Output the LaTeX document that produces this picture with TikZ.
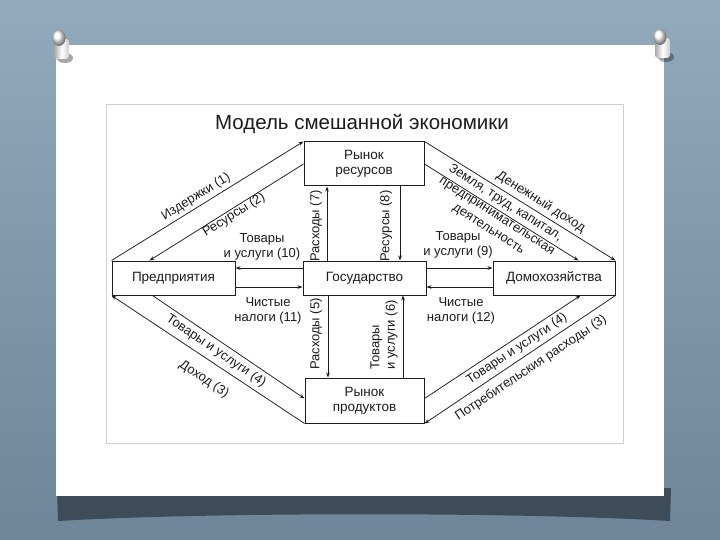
\documentclass[tikz,border=0pt]{standalone}
\usepackage{fontspec}
\setmainfont{Liberation Sans}
\usetikzlibrary{arrows.meta,calc}
\definecolor{bgtop}{HTML}{93A9BC}
\definecolor{bgbot}{HTML}{6E859A}
\definecolor{ink}{HTML}{1C1C1C}
\definecolor{framec}{HTML}{D0D0D0}
\definecolor{shadowc}{HTML}{3E4C59}
\tikzset{
  box/.style={draw=ink, line width=1pt, fill=white, inner sep=0pt, align=center,
    text=ink, font=\fontsize{13.5}{15}\selectfont},
  lbl/.style={inner sep=0pt, text=ink, align=center, font=\fontsize{13}{15.5}\selectfont},
  conn/.style={draw=ink, line width=0.75pt, -{Stealth[length=5pt,width=3.6pt]}},
  pushpin/.pic={
    \fill[black, opacity=0.35] (6,19) ellipse (8 and 5);
    \shade[left color=gray!70, right color=gray!40, middle color=white, rounded corners=3pt]
      (-5,0) rectangle (10,20);
    \shade[ball color=white] (0,-1) ellipse (6.5 and 8);
  }
}
\begin{document}
\begin{tikzpicture}[x=1pt, y=-1pt]
\useasboundingbox (0,0) rectangle (720,540);
% background
\shade[top color=bgtop, bottom color=bgbot] (0,0) rectangle (720,540);
\fill[shadowc] (57,488) -- (671,488) -- (670,521) .. controls (520,512) and (210,512) .. (58,521) -- cycle;
\fill[white] (56,45) rectangle (664,496);
\draw[framec, line width=1pt] (106,105) rectangle (623,443);
\pic at (59,39) {pushpin};
\pic at (660,38) {pushpin};

% title
\node[text=ink, font=\fontsize{20.5}{24}\selectfont] (title) at (362,124) {Модель смешанной экономики};

% boxes
\node[box, minimum width=120pt, minimum height=44pt] (RR) at (364,164) {Рынок\\ресурсов};
\node[box, minimum width=123pt, minimum height=34pt] (PR) at (173.5,278) {Предприятия};
\node[box, minimum width=123pt, minimum height=34pt] (GS) at (364.5,278) {Государство};
\node[box, minimum width=122pt, minimum height=34pt] (DM) at (554,278) {Домохозяйства};
\node[box, minimum width=119pt, minimum height=45pt] (RP) at (364.5,400.5) {Рынок\\продуктов};

% diagonal connectors
\draw[conn] (PR.north west) -- (RR.north west);
\draw[conn] (RR.west) -- ($(PR.north west)+(38,0)$);
\draw[conn] (RR.north east) -- (DM.north east);
\draw[conn] (RR.east) -- ($(DM.north east)+(-37,0)$);
\draw[conn] ($(PR.south west)+(41,0)$) -- ($(RP.north west)+(0,21)$);
\draw[conn] (RP.south west) -- (PR.south west);
\draw[conn] ($(RP.north east)+(0,21)$) -- ($(DM.south east)+(-35,0)$);
\draw[conn] (DM.south east) -- (RP.south east);

% vertical connectors
\draw[conn] ($(GS.north)+(-37.5,0)$) -- ($(RR.south)+(-37,0)$);
\draw[conn] ($(RR.south)+(36,0)$) -- ($(GS.north)+(35.5,0)$);
\draw[conn] ($(GS.south)+(-36.5,0)$) -- ($(RP.north)+(-36.5,0)$);
\draw[conn] ($(RP.north)+(38.5,0)$) -- ($(GS.south)+(38.5,0)$);

% horizontal connectors
\draw[conn] ($(GS.west)+(0,-10)$) -- ($(PR.east)+(0,-10)$);
\draw[conn] ($(PR.east)+(0,9)$) -- ($(GS.west)+(0,9)$);
\draw[conn] ($(GS.east)+(0,-10)$) -- ($(DM.west)+(0,-10)$);
\draw[conn] ($(DM.west)+(0,9)$) -- ($(GS.east)+(0,9)$);

% labels
\node[lbl, rotate=31.8] (l1) at (196,197) {Издержки (1)};
\node[lbl, rotate=32.2] (l2) at (234,215) {Ресурсы (2)};
\node[lbl, rotate=-32.1] (l3) at (541,202) {Денежный доход};
\node[lbl, rotate=-32.5] (l4) at (497,216) {Земля, труд, капитал,\\предпринимательская\\деятельность};
\node[lbl, rotate=-34.4] (l5) at (216,351) {Товары и услуги (4)};
\node[lbl, rotate=-33.6] (l6) at (204,379) {Доход (3)};
\node[lbl, rotate=33.7] (l7) at (517,349) {Товары и услуги (4)};
\node[lbl, rotate=33.8] (l8) at (531,368) {Потребительския расходы (3)};
\node[lbl, rotate=90] (v7) at (316,226) {Расходы (7)};
\node[lbl, rotate=90] (v8) at (386,226) {Ресурсы (8)};
\node[lbl, rotate=90] (v5) at (316,334) {Расходы (5)};
\node[lbl, rotate=90, align=left] (v6) at (384,335) {Товары\\и услуги (6)};
\node[lbl] (h10) at (262,247) {Товары\\и услуги (10)};
\node[lbl] (h9) at (458,245) {Товары\\и услуги (9)};
\node[lbl] (h11) at (268,311) {Чистые\\налоги (11)};
\node[lbl] (h12) at (461,311) {Чистые\\налоги (12)};
\end{tikzpicture}
\end{document}
